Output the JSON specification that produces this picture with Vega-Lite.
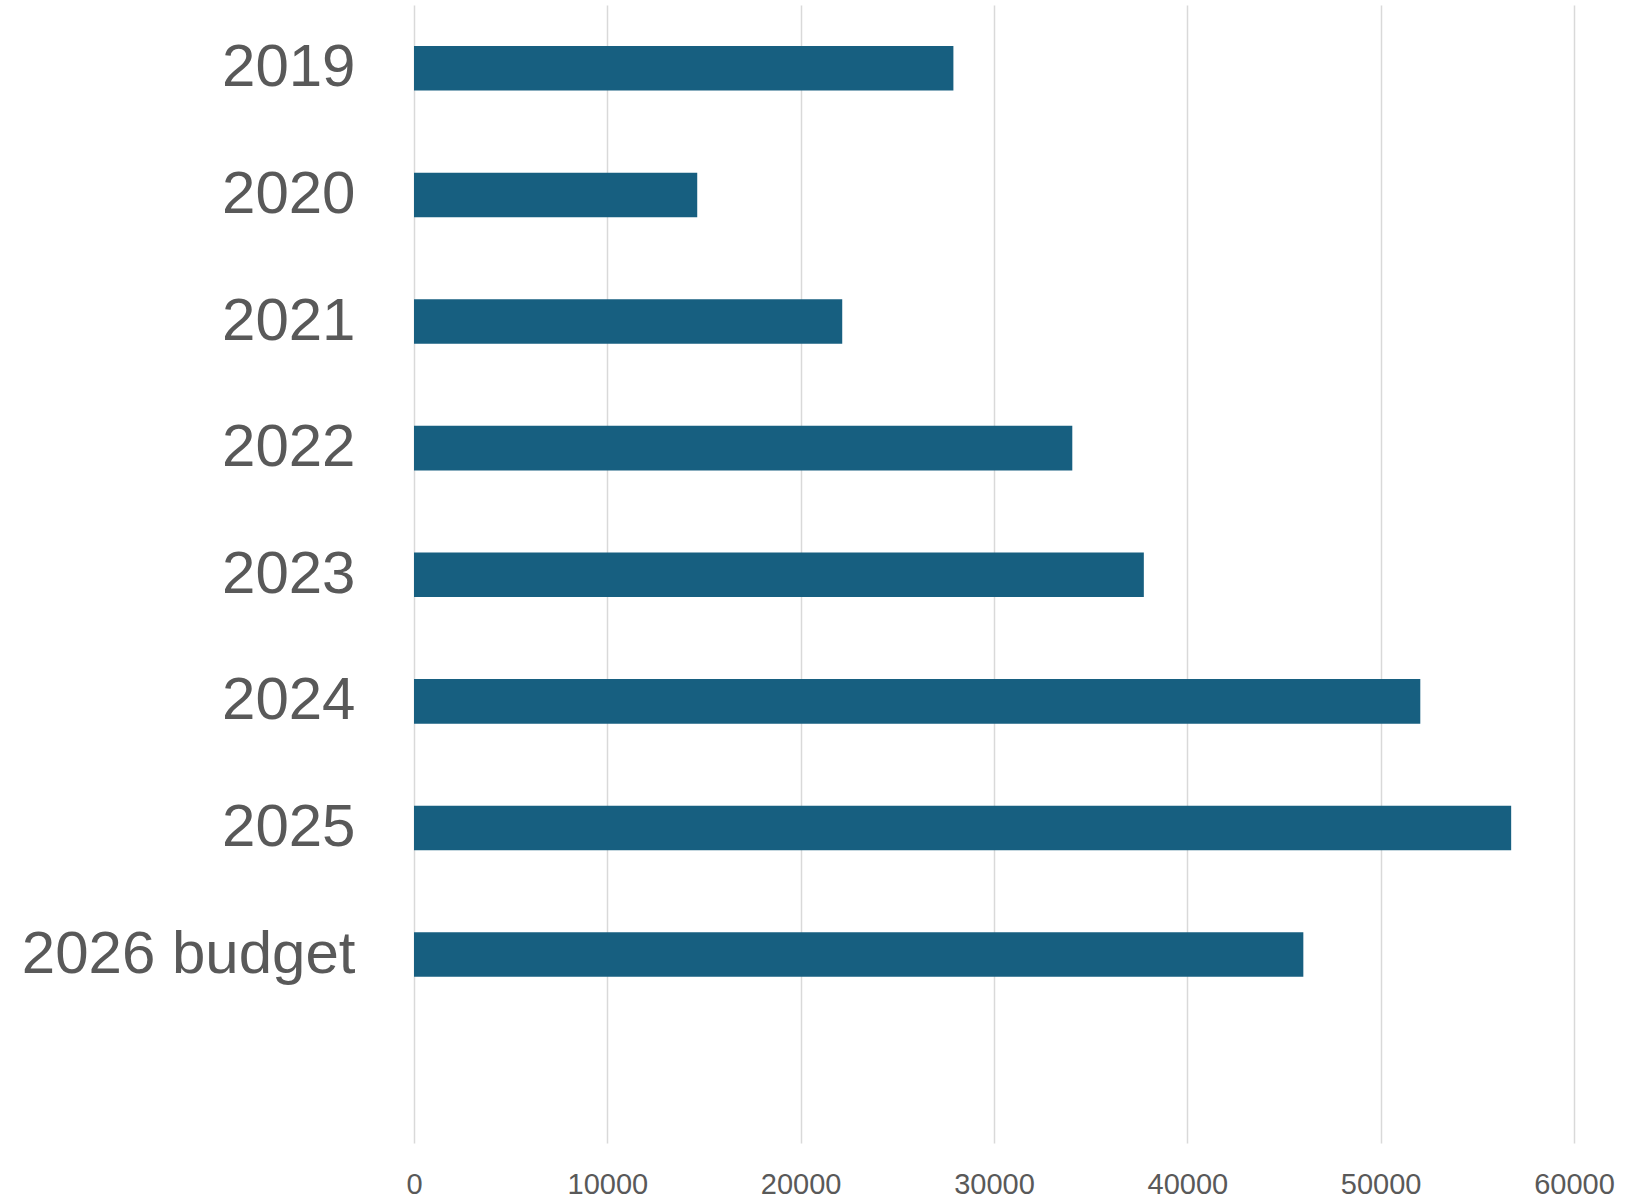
{
  "$schema": "https://vega.github.io/schema/vega-lite/v6.json",
  "autosize": {"type": "none"},
  "padding": {"left": 414, "top": 5, "right": 63, "bottom": 56},
  "width": 1160,
  "height": 1138,
  "background": "white",
  "config": {"view": {"stroke": null}},
  "data": {
    "values": [
      {"year": "2019", "value": 27900},
      {"year": "2020", "value": 14650},
      {"year": "2021", "value": 22150},
      {"year": "2022", "value": 34050},
      {"year": "2023", "value": 37750},
      {"year": "2024", "value": 52050},
      {"year": "2025", "value": 56750},
      {"year": "2026 budget", "value": 46000}
    ]
  },
  "mark": {"type": "bar", "color": "#175f80"},
  "encoding": {
    "y": {
      "field": "year",
      "type": "nominal",
      "sort": null,
      "scale": {"paddingInner": 0.648, "paddingOuter": 0.818, "align": 0.198},
      "axis": {
        "title": null,
        "domain": false,
        "ticks": false,
        "grid": false,
        "labelFont": "Liberation Sans",
        "labelFontSize": 60,
        "labelColor": "#595959",
        "labelPadding": 59,
        "labelLimit": 0
      }
    },
    "x": {
      "field": "value",
      "type": "quantitative",
      "scale": {"domain": [0, 60000], "nice": false},
      "axis": {
        "title": null,
        "values": [0, 10000, 20000, 30000, 40000, 50000, 60000],
        "format": "d",
        "domain": false,
        "ticks": false,
        "grid": true,
        "gridColor": "#d9d9d9",
        "gridWidth": 1.5,
        "labelFont": "Liberation Sans",
        "labelFontSize": 29,
        "labelColor": "#595959",
        "labelPadding": 27,
        "labelFlush": false
      }
    }
  }
}
